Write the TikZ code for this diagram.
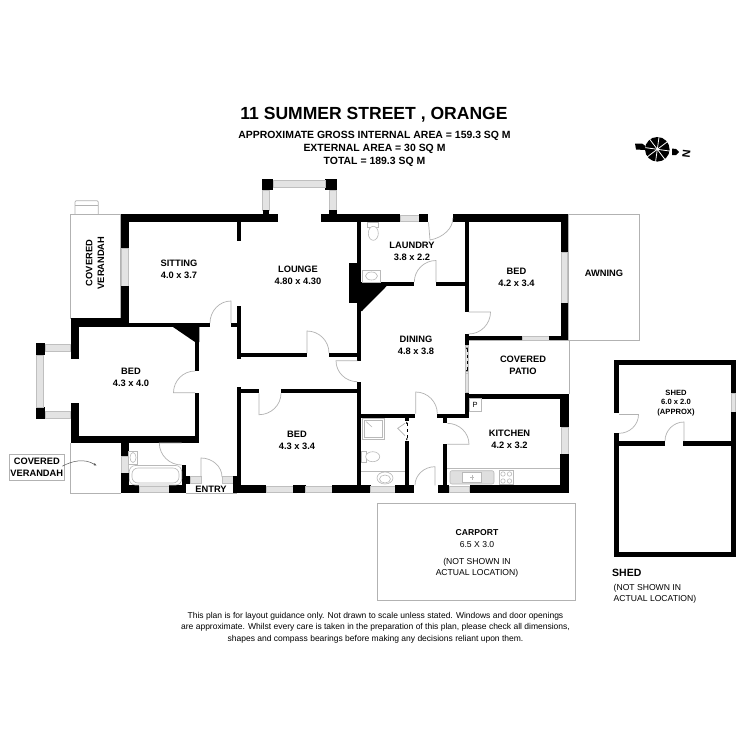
\documentclass[tikz,border=0pt]{standalone}
\usepackage{fontspec}
\setmainfont{Liberation Sans}
\usetikzlibrary{calc,arrows.meta}
\newcommand\wl[4]{\fill[black] (#1,#2) rectangle (#3,#4);}
\newcommand\wnd[4]{\draw[wndow] (#1,#2) rectangle (#3,#4);}
% hinge, leaf end, arc end
\newcommand\dr[6]{\draw[doorline] (#1,#2) -- (#3,#4) .. controls ($(#3,#4)+0.55*(#5,#6)-0.55*(#1,#2)$) and ($(#5,#6)+0.55*(#3,#4)-0.55*(#1,#2)$) .. (#5,#6);}
\tikzset{
 wndow/.style={draw=gray!50,fill=gray!22,line width=.6pt},
 doorline/.style={draw=gray!60,line width=.7pt},
 thin grey/.style={draw=gray!60,line width=.7pt},
 fixture/.style={draw=gray!55,line width=.6pt},
 lbl/.style={align=center,inner sep=0pt,font=\bfseries\fontsize{9.3}{11.8}\selectfont},
 reg/.style={align=center,inner sep=0pt,font=\fontsize{8.6}{11.5}\selectfont},
 head/.style={align=center,inner sep=0pt,font=\bfseries\fontsize{10.45}{13}\selectfont},
}
\begin{document}
\begin{tikzpicture}[x=1pt,y=-1pt]
\fill[white] (0,0) rectangle (750,750);
\useasboundingbox (0,0) rectangle (750,750);
% outdoor areas
\draw[thin grey] (70.7,214.3) rectangle (120.7,318);
\draw[thin grey] (75,214.3) -- (75,202) -- (76,200.7) -- (97,200.7) -- (98.3,202) -- (98.3,214.3);
\draw[thin grey] (75,205.7) -- (98.3,205.7);
\draw[thin grey] (568,214.3) rectangle (639,340);
\draw[thin grey] (469,340) -- (569,340) -- (569,394);
\draw[thin grey] (70.7,443) -- (70.7,493.3) -- (120.7,493.3);
\draw[thin grey] (186,493) -- (237,493);
\draw[thin grey] (377.7,503.3) rectangle (575.7,600);
% top walls
\wl{120.7}{214.3}{277.7}{222.3}
\wl{321}{214.3}{400}{222.3}
\wnd{400}{215}{419}{221.5}
\wl{419}{214.3}{428}{222.3}
\wl{452.7}{214.3}{568.3}{222.3}
% sitting
\wl{120.7}{214.3}{128.7}{248}
\wnd{121.5}{248}{128}{286}
\wl{120.7}{286}{128.7}{327}
\wl{70.7}{318}{128.7}{327}
\wl{128}{323}{210}{327}
\wl{237}{222}{241}{241}
\wl{231}{323}{241}{327}
\wl{237}{306}{241}{359}
\dr{231}{323}{231}{301}{210}{323}
% top bay
\wl{261.7}{179.3}{273.3}{190}
\wl{325}{179.3}{337.3}{190}
\wnd{273.3}{180}{325}{187}
\wnd{262.5}{190}{269.3}{210}
\wnd{329.3}{190}{336.5}{210}
\wl{262.5}{210}{269.3}{214.3}
\wl{329.3}{210}{336.5}{214.3}
% lounge / laundry
\wl{357.3}{222}{361.3}{361}
\wl{349}{263}{357.3}{303}
\fill[black] (361,284) -- (388.7,284) -- (362,311) -- (361,311) -- cycle;
\wl{361}{282}{414.3}{286}
\wl{436}{282}{466}{286}
\wl{464.7}{222}{468.7}{312}
\dr{436}{282}{436}{260.5}{414.3}{282}
\dr{428.5}{222.3}{430}{240}{452.7}{218}
% bed right
\wl{560.7}{214.3}{568.3}{252}
\wnd{561.5}{252}{567.5}{303}
\wl{560.7}{303}{568.3}{340}
\wl{465}{336}{522.7}{340}
\wnd{522.7}{336.5}{549.3}{340}
\wl{549.3}{336}{568.3}{340}
\wl{464.5}{334}{468.5}{345}
\dr{468.7}{312}{490.5}{312}{468.7}{334}
% patio side
\wl{465}{392}{469}{417.7}
\wnd{465.5}{373.5}{468.5}{392}
\wnd{465.5}{345}{468.5}{373.5}
\draw[{Latex[length=2pt,width=2pt]}-{Latex[length=2pt,width=2pt]},line width=.5pt,dashed] (467,347) -- (467,372);
% left bed
\wl{70.7}{327}{78.7}{359.3}
\wl{70.7}{402.7}{78.7}{443.3}
\wl{70.7}{435.7}{199}{443.3}
\wl{195}{327}{199}{371}
\wl{195}{392.7}{199}{443}
\fill[black] (173,327) -- (199.3,327) -- (199.3,342) -- (195,342) -- cycle;
\dr{195}{392.7}{173.5}{392.7}{195}{371}
% left bay
\wl{35.7}{343}{45}{355}
\wl{35.7}{407}{45}{419}
\wnd{36}{355}{43.3}{407}
\wnd{45}{344}{70.7}{351}
\wnd{45}{411}{70.7}{418.5}
% lower-left bath
\wl{120.7}{443}{128.7}{456.7}
\wnd{121.5}{456.7}{128}{473.3}
\wl{120.7}{473.3}{128.7}{493.3}
\wl{120.7}{485}{139}{493.3}
\wnd{139}{486}{169}{492.5}
\wl{169}{485}{185.7}{493.3}
\wl{181.7}{465}{185.7}{485}
\wl{181.7}{439}{185.7}{443}
\dr{181.7}{443}{159.3}{443}{181.7}{465}
% entry
\wl{185.7}{475.7}{190}{483.5}
\wnd{190}{476}{201}{483}
\wnd{222.7}{476}{233.3}{483}
\wl{233.3}{475.7}{241}{493.3}
\dr{201}{477}{201}{458}{222}{477}
% hall / bed 3
\wl{237}{353}{306.7}{356.7}
\wl{329}{353}{361}{356.7}
\dr{307}{353}{307}{331}{329}{353}
\dr{357.3}{360.7}{336}{360.7}{357.3}{381.7}
\wl{357.3}{381.7}{361.3}{490}
\wl{237.3}{386.7}{241.3}{490}
\wl{237.3}{389.3}{259}{393.3}
\wl{281}{389.3}{361}{393.3}
\dr{259}{393.3}{259}{414.7}{281}{393.3}
% south wall
\wl{237}{485.3}{266}{493.3}
\wnd{266}{486}{293}{492.5}
\wl{293}{485.3}{305.7}{493.3}
\wnd{305.7}{486}{332}{492.5}
\wl{332}{485.3}{370.7}{493.3}
\wnd{370.7}{486}{395}{492.5}
\wl{395}{485.3}{413.7}{493.3}
\wl{437.7}{485.3}{449}{493.3}
\wnd{449}{486}{469.7}{492.5}
\wl{469.7}{485.3}{569}{493.3}
\dr{435}{485.3}{435}{466.7}{415}{485.3}
% bathroom / kitchen
\wl{361}{413.7}{415}{417.7}
\wl{437.3}{413.7}{469}{417.7}
\dr{415.7}{413.7}{415.7}{392}{437.3}{413.7}
\wl{405}{416.7}{409}{420.7}
\wl{405}{441.3}{409}{485.3}
\draw[{Latex[length=2pt,width=2pt]}-{Latex[length=2pt,width=2pt]},line width=.5pt,dashed] (406.8,421.5) -- (406.8,440.5);
\draw[doorline] (405,423.3) -- (397.7,428.3) -- (405,435.7);
\wl{443.3}{417.7}{447.3}{423.3}
\wl{443.3}{444.3}{447.3}{485.3}
\dr{447.3}{444.3}{469}{444.3}{447.3}{423.3}
% kitchen
\wl{465}{394.3}{569}{398.7}
\wl{560.3}{394.3}{569}{427.3}
\wnd{561}{427.3}{568.3}{454}
\wl{560.3}{454}{569}{493.3}
% fixtures
\draw[fixture] (367,222.3) rectangle (378,227);
\draw[fixture,fill=white] (373.3,233.3) ellipse (5 and 7);
\draw[fixture] (362.3,270) rectangle (380.7,282);
\draw[fixture] (371.5,276) ellipse (6 and 4);
\draw[fixture,rounded corners=6pt] (129.3,465.5) rectangle (181.7,485);
\draw[fixture,rounded corners=6pt] (132,468) rectangle (179,483);
\draw[fixture] (128.7,451) rectangle (137.3,464.3);
\draw[fixture] (133,457.5) ellipse (3 and 5);
\draw[fixture] (362.3,418.3) rectangle (384,439);
\draw[fixture] (364.5,420.5) rectangle (381.8,436.8);
\draw[fixture] (366,421.5) -- (372,427);
\draw[fixture] (361.7,451) rectangle (366,462.7);
\draw[fixture,fill=white] (372.7,456.7) ellipse (7 and 5);
\draw[fixture] (361.3,471) -- (405,471);
\draw[fixture] (385,478) ellipse (8 and 6);
\draw[fixture] (385,479) ellipse (5.5 and 4);
\draw[fixture] (447.3,468.3) -- (560.3,468.3);
\draw[fixture,fill=gray!25,rounded corners=2pt] (450,470.7) rectangle (494,484);
\draw[fixture,fill=white] (462.7,472.7) rectangle (481.7,482.5);
\draw[fixture] (472,475) -- (472,480) (470,477) -- (474,477);
\draw[fixture] (499.3,470.7) rectangle (513.3,484.5);
\foreach \cx in {503,509.5}{\foreach \cy in {474,481}{\draw[fixture] (\cx,\cy) circle (2.2);}}
\draw[fixture] (469,398.7) rectangle (481,411);
% shed
\wl{613.7}{360}{735.7}{365.3}
\wl{613.7}{360}{619}{413.3}
\wl{613.7}{433.3}{619}{557}
\wl{731}{360}{735.7}{393.7}
\wnd{731.5}{393.7}{735.5}{412}
\wl{731}{412}{735.7}{557}
\wl{613.7}{551.7}{735.7}{557}
\wl{619}{441}{665}{446.3}
\wl{683}{441}{731}{446.3}
\dr{619}{414.5}{638.5}{414.5}{619}{433.3}
\dr{684}{441}{684}{422}{665}{441}
% compass
\fill[black] (657.3,149.3) circle (12.3);
\foreach \a in {8,53,98,143,188,233,278,323}{\draw[white,line width=.8pt] (657.3,149.3) -- ++(\a:12.5);}
\fill[black] (635,143.5) -- (642,143.5) -- (645.5,146) -- (645,150) -- (636,149.5) -- cycle;
\fill[black] (672,148.5) -- (676,149) -- (679,152) -- (676,155) -- (672,155) -- cycle;
\node[inner sep=0pt,rotate=-97,font=\bfseries\fontsize{11}{11}\selectfont] (north) at (686.5,153.5) {N};
% covered verandah label
\draw[thin grey] (9.3,454.3) rectangle (64.3,480);
\node[lbl] (cv2) at (36.8,467.2) {COVERED\\VERANDAH};
\coordinate (cvtip) at (96.7,465.7);
\draw[line width=.5pt,draw=gray!70!black,-{Latex[length=3pt,width=2.5pt]}] (cv2.east) ++(-1,-1) .. controls (72,461) and (84,458) .. (cvtip);
% text
\node[inner sep=0pt,font=\bfseries\fontsize{17.55}{18}\selectfont] (title) at (374,115) {11 SUMMER STREET , ORANGE};
\node[head] (sub) at (374.5,149) {APPROXIMATE GROSS INTERNAL AREA = 159.3 SQ M\\EXTERNAL AREA = 30 SQ M\\TOTAL = 189.3 SQ M};
\node[lbl] (sit) at (179,269.5) {SITTING\\4.0 x 3.7};
\node[lbl] (lou) at (298,275.5) {LOUNGE\\4.80 x 4.30};
\node[lbl] (lau) at (412,251) {LAUNDRY\\3.8 x 2.2};
\node[lbl] (bed1) at (516.5,277) {BED\\4.2 x 3.4};
\node[lbl] (awn) at (604,273) {AWNING};
\node[lbl] (din) at (416,345) {DINING\\4.8 x 3.8};
\node[lbl] (pat) at (523,365.5) {COVERED\\PATIO};
\node[lbl] (kit) at (509.5,439.5) {KITCHEN\\4.2 x 3.2};
\node[lbl] (bed2) at (131,377) {BED\\4.3 x 4.0};
\node[lbl] (bed3) at (297,440.5) {BED\\4.3 x 3.4};
\node[lbl,rotate=90] (cv1) at (95,263) {COVERED\\VERANDAH};
\node[lbl] (ent) at (211,489) {ENTRY};
\node[inner sep=0pt,font=\fontsize{7.5}{7.5}\selectfont] (pk) at (475,405) {P};
\node[align=center,inner sep=0pt,font=\bfseries\fontsize{7.6}{9.6}\selectfont] (shd) at (676,403) {SHED\\6.0 x 2.0\\(APPROX)};
\node[reg] (car) at (477,538.5) {\textbf{CARPORT}\\[1.2pt]6.5 X 3.0};
\node[reg] (cars) at (477,568) {(NOT SHOWN IN\\ACTUAL LOCATION)};
\node[anchor=west,inner sep=0pt,font=\bfseries\fontsize{10.5}{12}\selectfont] (shl) at (612,572.5) {SHED};
\node[anchor=west,align=left,inner sep=0pt,font=\fontsize{8.6}{11}\selectfont] (shs) at (613.5,593.5) {(NOT SHOWN IN\\ACTUAL LOCATION)};
\node[align=center,inner sep=0pt,font=\fontsize{8.5}{11.5}\selectfont] (foot) at (375.5,627.5) {This plan is for layout guidance only. Not drawn to scale unless stated. Windows and door openings\\are approximate. Whilst every care is taken in the preparation of this plan, please check all dimensions,\\shapes and compass bearings before making any decisions reliant upon them.};
\end{tikzpicture}
\end{document}
